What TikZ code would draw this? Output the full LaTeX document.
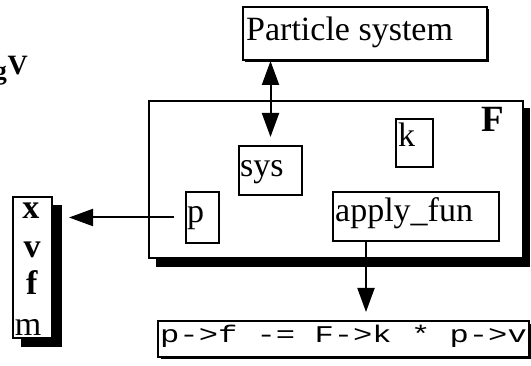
\documentclass[tikz,border=0pt]{standalone}
\usepackage{graphicx}
\usepackage{fontspec}
\setmainfont{Liberation Serif}
\newfontfamily\codefont{Liberation Mono}
\usetikzlibrary{arrows.meta}
\begin{document}
\begin{tikzpicture}[x=1pt,y=-1pt,
  box/.style={draw,fill=white,line width=2pt,inner sep=0pt},
  shade/.style={fill=black,draw=none},
  txt/.style={inner sep=0pt,anchor=base west,font=\fontsize{34}{36}\selectfont},
  conn/.style={line width=2pt,-{Triangle[length=24pt,width=17pt]}},
]
\useasboundingbox (0,0) rectangle (531,366);
% shadows
\fill[shade] (245,9) rectangle (489,62);
\fill[shade] (156,108) rectangle (530,267);
\fill[shade] (21,205) rectangle (62,347);
\fill[shade] (161,324) rectangle (531,359);
% boxes
\node[box,minimum width=244pt,minimum height=53pt] (ps) at (365,33.5) {};
\node[box,minimum width=374pt,minimum height=157pt] (F) at (336,179.5) {};
\node[box,minimum width=63pt,minimum height=49pt] (sys) at (270.5,170.5) {};
\node[box,minimum width=37pt,minimum height=48pt] (k) at (414.5,143) {};
\node[box,minimum width=33pt,minimum height=51pt] (p) at (202.5,217.5) {};
\node[box,minimum width=166pt,minimum height=49pt] (apply) at (416,216.5) {};
\node[box,minimum width=39pt,minimum height=141pt] (xlist) at (32.5,267.5) {};
\node[box,minimum width=371pt,minimum height=36pt] (code) at (343.5,339) {};
% texts
\node[txt] (pstext) at (246,41) {Particle system};
\node[txt] (systext) at (240,177) {sys};
\node[txt] (ptext) at (187,223) {p};
\node[txt] (ktext) at (398,147) {k};
\node[txt] (apptext) at (335,222) {apply\_fun};
\node[txt] (Ftext) at (481,132) {\fontsize{37}{38}\selectfont\textbf{F}};
\node[txt,anchor=base] (xt) at (31,219) {\textbf{x}};
\node[txt,anchor=base] (vt) at (32,258) {\textbf{v}};
\node[txt,anchor=base] (ft) at (32,295) {\textbf{f}};
\node[txt,anchor=base] (mt) at (28,336) {m};
\node[inner sep=0pt,anchor=base west] (codetext) at (160,343)
  {\codefont\fontsize{24}{25}\selectfont\scalebox{1.34}[1]{p->f -= F->k * p->v}};
\node[inner sep=0pt,anchor=base east] (gtext) at (7,80) {\fontsize{26}{28}\selectfont\textbf{g}};
\node[inner sep=0pt,anchor=base west] (Vtext) at (7.5,75) {\fontsize{28}{30}\selectfont\textbf{V}};
% connectors
\draw[line width=2pt,{Triangle[length=24pt,width=17pt]}-{Triangle[length=24pt,width=17pt]},shorten >=8pt]
  (sys.north |- ps.south) -- (sys.north);
\draw[conn,shorten <=11pt,shorten >=16pt] (p.west) -- (p.west -| xlist.east);
\draw[conn,shorten >=8pt] ([xshift=-50pt]apply.south) -- ([xshift=-50pt]apply.south |- code.north);
\end{tikzpicture}
\end{document}
